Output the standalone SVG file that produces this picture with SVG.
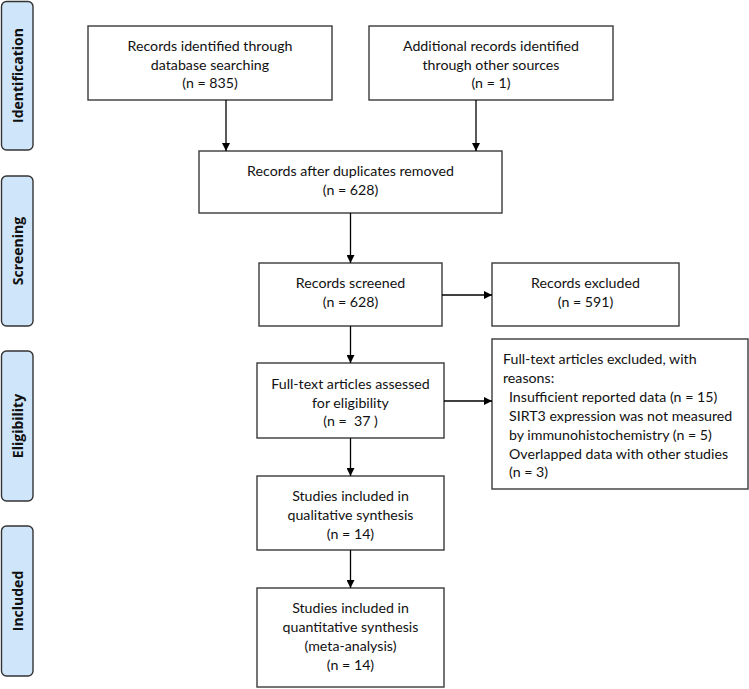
<svg xmlns="http://www.w3.org/2000/svg" width="749" height="689" viewBox="0 0 749 689">
<style>
.bg{fill:#fff}
.box{fill:#fff;stroke:#3a3a3a;stroke-width:1.4}
.side{fill:#cfe6fa;stroke:#333;stroke-width:1.4}
.t{font-family:Lato,"Liberation Sans",sans-serif;font-size:14.2px;fill:#111;text-anchor:middle}
.l{font-family:Lato,"Liberation Sans",sans-serif;font-size:14.2px;fill:#111}
.s{font-family:"Open Sans","Liberation Sans",sans-serif;font-size:14px;font-weight:bold;fill:#111;text-anchor:middle}
.c{stroke:#000;stroke-width:1.3;fill:none}
</style>
<defs>
<marker id="ah" viewBox="0 0 10 10" refX="10" refY="5" markerWidth="8" markerHeight="8" markerUnits="userSpaceOnUse" orient="auto">
<path d="M0,0 L10,5 L0,10 z" fill="#000"/>
</marker>
</defs>
<rect class="bg" x="0" y="0" width="749" height="689"/>
<g id="side-identification"><rect class="side" x="1.5" y="1.5" width="31.5" height="148.5" rx="5"/><text class="s" transform="translate(22.5,75.5) rotate(-90)">Identification</text></g>
<g id="side-screening"><rect class="side" x="1.5" y="176" width="31.5" height="150" rx="5"/><text class="s" transform="translate(22.5,251) rotate(-90)">Screening</text></g>
<g id="side-eligibility"><rect class="side" x="1.5" y="351" width="31.5" height="150" rx="5"/><text class="s" transform="translate(22.5,426) rotate(-90)">Eligibility</text></g>
<g id="side-included"><rect class="side" x="1.5" y="526" width="31.5" height="150" rx="5"/><text class="s" transform="translate(22.5,601) rotate(-90)">Included</text></g>

<g id="n-database"><rect class="box" x="88" y="26" width="244" height="74"/>
<text class="t" x="210" y="51">Records identified through</text><text class="t" x="210" y="70">database searching</text><text class="t" x="210" y="88">(n = 835)</text></g>
<g id="n-other"><rect class="box" x="369" y="26" width="244" height="74"/>
<text class="t" x="491" y="51">Additional records identified</text><text class="t" x="491" y="70">through other sources</text><text class="t" x="491" y="88">(n = 1)</text></g>
<g id="n-dup"><rect class="box" x="199" y="151" width="303" height="62"/>
<text class="t" x="350.5" y="176">Records after duplicates removed</text><text class="t" x="350.5" y="195">(n = 628)</text></g>
<g id="n-screened"><rect class="box" x="259" y="263" width="183" height="63"/>
<text class="t" x="350.5" y="288">Records screened</text><text class="t" x="350.5" y="307">(n = 628)</text></g>
<g id="n-excluded"><rect class="box" x="492" y="263" width="187" height="63"/>
<text class="t" x="585.5" y="288">Records excluded</text><text class="t" x="585.5" y="307">(n = 591)</text></g>
<g id="n-fulltext"><rect class="box" x="257" y="363" width="187" height="75"/>
<text class="t" x="350.5" y="389">Full-text articles assessed</text><text class="t" x="350.5" y="408">for eligibility</text><text class="t" x="350.5" y="426" style="white-space:pre">(n =  37 )</text></g>
<g id="n-ftexcluded"><rect class="box" x="492" y="339" width="256" height="150"/>
<text class="l" x="503" y="364">Full-text articles excluded, with</text>
<text class="l" x="503" y="383">reasons:</text>
<text class="l" x="509" y="402">Insufficient reported data (n = 15)</text>
<text class="l" x="509" y="421">SIRT3 expression was not measured</text>
<text class="l" x="509" y="440">by immunohistochemistry (n = 5)</text>
<text class="l" x="509" y="459">Overlapped data with other studies</text>
<text class="l" x="509" y="477">(n = 3)</text></g>
<g id="n-qual"><rect class="box" x="257" y="476" width="187" height="74"/>
<text class="t" x="350.5" y="501">Studies included in</text><text class="t" x="350.5" y="520">qualitative synthesis</text><text class="t" x="350.5" y="539">(n = 14)</text></g>
<g id="n-quant"><rect class="box" x="257" y="588" width="187" height="99"/>
<text class="t" x="350.5" y="613">Studies included in</text><text class="t" x="350.5" y="632">quantitative synthesis</text><text class="t" x="350.5" y="651">(meta-analysis)</text><text class="t" x="350.5" y="670">(n = 14)</text></g>

<g id="connectors">
<line class="c" x1="226" y1="100" x2="226" y2="151" marker-end="url(#ah)"/>
<line class="c" x1="476" y1="100" x2="476" y2="151" marker-end="url(#ah)"/>
<line class="c" x1="350.5" y1="213" x2="350.5" y2="263" marker-end="url(#ah)"/>
<line class="c" x1="442" y1="295" x2="492" y2="295" marker-end="url(#ah)"/>
<line class="c" x1="350.5" y1="326" x2="350.5" y2="363" marker-end="url(#ah)"/>
<line class="c" x1="444" y1="401" x2="492" y2="401" marker-end="url(#ah)"/>
<line class="c" x1="350.5" y1="438" x2="350.5" y2="476" marker-end="url(#ah)"/>
<line class="c" x1="350.5" y1="550" x2="350.5" y2="588" marker-end="url(#ah)"/>
</g>
</svg>
